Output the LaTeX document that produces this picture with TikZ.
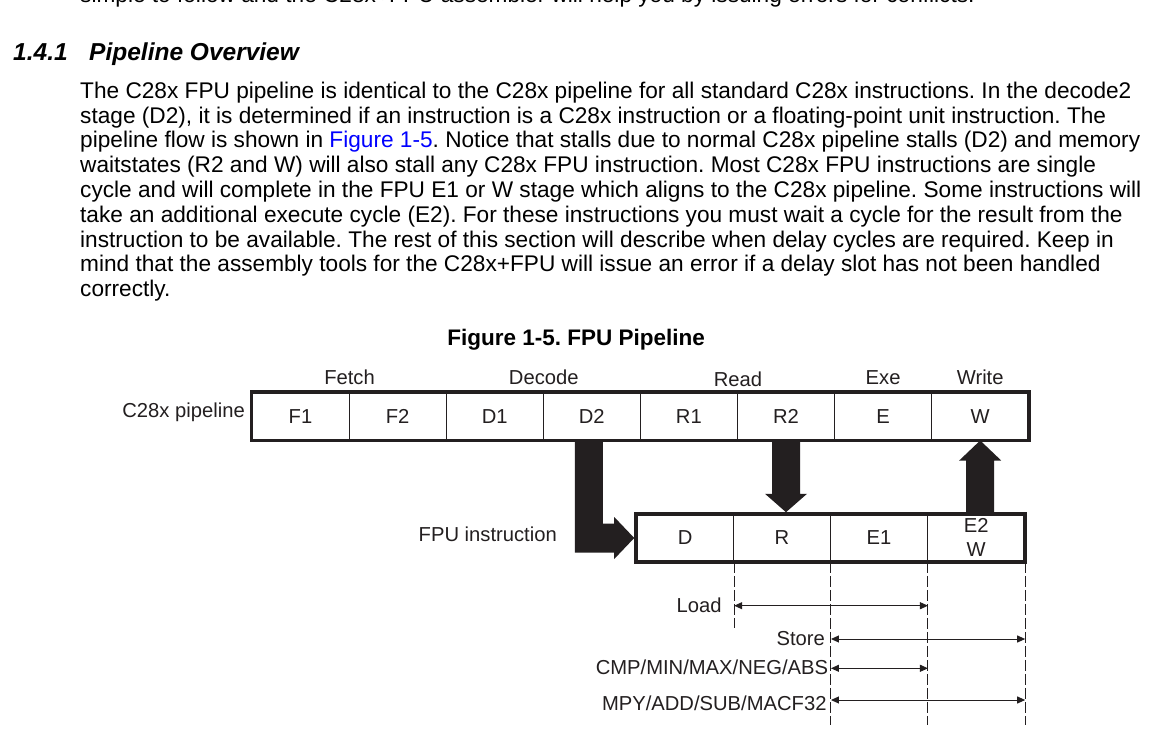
\documentclass[tikz,border=0pt]{standalone}
\usepackage{fontspec}
\setmainfont{Liberation Sans}
\usetikzlibrary{arrows.meta,calc}
\definecolor{ink}{HTML}{231F20}
\definecolor{linkblue}{HTML}{0000FF}
\begin{document}
\frenchspacing
\begin{tikzpicture}[x=1pt,y=-1pt,
  body/.style={anchor=base west,inner sep=0pt,font=\fontsize{22.65}{24.8}\selectfont},
  lbl/.style={inner sep=0pt,text=ink,font=\fontsize{20.2}{23.4}\selectfont},
  cell/.style={draw=ink,line width=1pt,minimum width=97.09pt,minimum height=47.5pt,inner sep=0pt,text=ink,font=\fontsize{20.2}{23.4}\selectfont},
  fcell/.style={cell,minimum width=96.93pt,minimum height=46.6pt},
  frame/.style={draw=ink,line width=3.6pt},
  bigarrow/.style={fill=ink},
  guide/.style={draw=ink,line width=1pt,dash pattern=on 11pt off 3pt},
  dimarrow/.style={draw=ink,line width=1pt,{Triangle[length=8pt,width=7pt]}-{Triangle[length=8pt,width=7pt]}}
]
\fill[white] (0,0) rectangle (1170,749);
\useasboundingbox (0,0) rectangle (1170,749);

% cut-off line of the previous paragraph
\node[body] (b0) at (80,2.5) {simple to follow and the C28x+FPU assembler will help you by issuing errors for conflicts.};

% heading
\node[anchor=base west,inner sep=0pt,font=\fontsize{24.5}{28}\selectfont\bfseries\itshape] (hnum) at (13,61) {1.4.1};
\node[anchor=base west,inner sep=0pt,font=\fontsize{24.5}{28}\selectfont\bfseries\itshape] (htitle) at (89,61) {Pipeline Overview};

% body text
\node[body] (b1) at (80,98.3) {The C28x FPU pipeline is identical to the C28x pipeline for all standard C28x instructions. In the decode2};
\node[body] (b2) at (80,123.1) {stage (D2), it is determined if an instruction is a C28x instruction or a floating-point unit instruction. The};
\node[body] (b3) at (80,147.9) {pipeline flow is shown in {\color{linkblue}Figure 1-5}. Notice that stalls due to normal C28x pipeline stalls (D2) and memory};
\node[body] (b4) at (80,172.7) {waitstates (R2 and W) will also stall any C28x FPU instruction. Most C28x FPU instructions are single};
\node[body] (b5) at (80,197.5) {cycle and will complete in the FPU E1 or W stage which aligns to the C28x pipeline. Some instructions will};
\node[body] (b6) at (80,222.3) {take an additional execute cycle (E2). For these instructions you must wait a cycle for the result from the};
\node[body] (b7) at (80,247.1) {instruction to be available. The rest of this section will describe when delay cycles are required. Keep in};
\node[body] (b8) at (80,271.9) {mind that the assembly tools for the C28x+FPU will issue an error if a delay slot has not been handled};
\node[body] (b9) at (80,296.7) {correctly.};

% caption
\node[anchor=base,inner sep=0pt,font=\fontsize{22.5}{26}\selectfont\bfseries] (cap) at (576.2,345.7) {Figure 1-5. FPU Pipeline};

% C28x pipeline cells
\node[cell] (F1) at (300.5,416.25) {F1};
\node[cell] (F2) at (397.6,416.25) {F2};
\node[cell] (D1) at (494.7,416.25) {D1};
\node[cell] (D2) at (591.8,416.25) {D2};
\node[cell] (R1) at (688.9,416.25) {R1};
\node[cell] (R2) at (786.0,416.25) {R2};
\node[cell] (E)  at (883.1,416.25) {E};
\node[cell] (W)  at (980.2,416.25) {W};

% FPU pipeline cells
\node[fcell] (fD)  at (685.2,538) {D};
\node[fcell] (fR)  at (782.0,538) {R};
\node[fcell] (fE1) at (879.0,538) {E1};
\node[fcell,align=center] (fE2) at (976.2,538) {\raisebox{1.2pt}{E2}\\\raisebox{1.2pt}{W}};

% stage labels
\node[lbl,anchor=base] (sFetch)  at (F1.north east |- 0,384.3) {Fetch};
\node[lbl,anchor=base] (sDecode) at (D1.north east |- 0,384.3) {Decode};
\node[lbl,anchor=base] (sRead)   at (R1.north east |- 0,386)   {Read};
\node[lbl,anchor=base] (sExe)    at (E.north |- 0,384.3)       {Exe};
\node[lbl,anchor=base] (sWrite)  at (W.north |- 0,384.3)       {Write};

% row labels
\node[lbl,anchor=base east] (lpipe) at (245,417.3) {C28x pipeline};
\node[lbl,anchor=base east] (lfpu)  at (557,541.7) {FPU instruction};

% big arrows
\coordinate (dcorner) at (D2.south |- fD.west);
\fill[bigarrow] ($(D2.south)+(-17,0)$) -- ($(D2.south)+(11,0)$)
  -- ($(dcorner)+(11,-14.5)$) -- ($(fD.west)+(-22,-14.5)$) -- ($(fD.west)+(-22,-21)$)
  -- ($(fD.west)+(-2,0)$) -- ($(fD.west)+(-22,21)$) -- ($(fD.west)+(-22,14.5)$)
  -- ($(dcorner)+(-17,14.5)$) -- cycle;
\coordinate (rtip) at ($(R2.south |- fR.north)+(0,-2)$);
\fill[bigarrow] ($(R2.south)+(-14,0)$) -- ($(R2.south)+(14,0)$)
  -- ($(rtip)+(14,-18.4)$) -- ($(rtip)+(21,-18.4)$) -- (rtip)
  -- ($(rtip)+(-21,-18.4)$) -- ($(rtip)+(-14,-18.4)$) -- cycle;
\coordinate (wtip) at (W.south);
\fill[bigarrow] ($(W.south |- fE2.north)+(-14,0)$) -- ($(W.south |- fE2.north)+(14,0)$)
  -- ($(wtip)+(14,20)$) -- ($(wtip)+(21,20)$) -- (wtip)
  -- ($(wtip)+(-21,20)$) -- ($(wtip)+(-14,20)$) -- cycle;

% frames
\draw[frame] (F1.north west) rectangle (W.south east);
\draw[frame] (fD.north west) rectangle (fE2.south east);

% dashed guides
\draw[guide] (fD.south east)  -- (fD.south east |- 0,628);
\draw[guide] (fR.south east)  -- (fR.south east |- 0,725);
\draw[guide] (fE1.south east) -- (fE1.south east |- 0,725);
\draw[guide] (fE2.south east) -- (fE2.south east |- 0,725);

% latency arrows
\draw[dimarrow] (fD.south east |- 0,605.7) -- (fE1.south east |- 0,605.7);
\draw[dimarrow] (fR.south east |- 0,639)   -- (fE2.south east |- 0,639);
\draw[dimarrow] (fR.south east |- 0,668.3) -- (fE1.south east |- 0,668.3);
\draw[dimarrow] (fR.south east |- 0,700)   -- (fE2.south east |- 0,700);

\node[lbl,anchor=base east] (lLoad)  at (721.7,612.7) {Load};
\node[lbl,anchor=base east] (lStore) at (825,645.7)   {Store};
\node[lbl,anchor=base east] (lCmp)   at (828.3,674.3) {CMP/MIN/MAX/NEG/ABS};
\node[lbl,anchor=base east] (lMpy)   at (826.7,710)   {MPY/ADD/SUB/MACF32};
\end{tikzpicture}
\end{document}
